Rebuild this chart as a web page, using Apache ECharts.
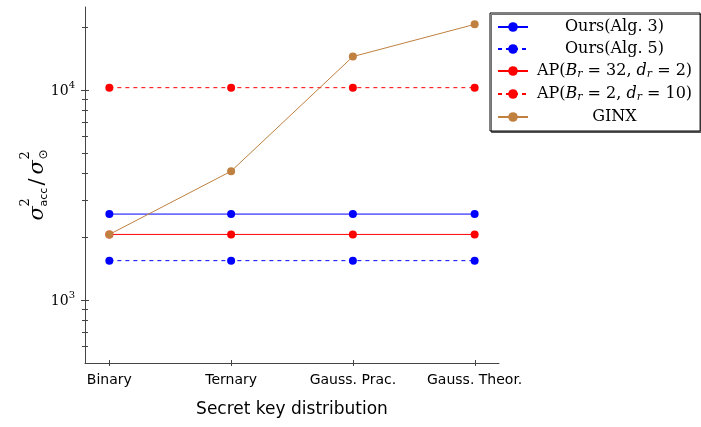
<!DOCTYPE html>
<html>
<head>
<meta charset="utf-8">
<script src="https://cdn.jsdelivr.net/npm/echarts@6/dist/echarts.min.js"></script>
<style>html,body{margin:0;padding:0;background:#fff;}#c{width:701px;height:427px;}</style>
</head>
<body>
<div id="c"></div>
<script>
var categories = ['Binary', 'Ternary', 'Gauss. Prac.', 'Gauss. Theor.'];
var oursAlg3 = [2560, 2560, 2560, 2560];
var oursAlg5 = [1536, 1536, 1536, 1536];
var apBr32 = [2048, 2048, 2048, 2048];
var apBr2 = [10240, 10240, 10240, 10240];
var ginx = [2048, 4096, 14400, 20500];
var yMajorTicks = [1000, 10000];
var yMinorTicks = [600, 700, 800, 900, 2000, 3000, 4000, 5000, 6000, 7000, 8000, 9000, 20000];
var xTickPositions = [0, 1, 2, 3];

var AX = '#444';
function pts(arr) { return arr.map(function (v, i) { return [i, v]; }); }

var chart = echarts.init(document.getElementById('c'), null, { renderer: 'canvas' });

function lineSeries(name, arr, color, dashed) {
  return {
    name: name, type: 'line', data: pts(arr),
    symbol: 'circle', symbolSize: 8, clip: false,
    itemStyle: { color: color },
    lineStyle: { color: color, width: 1, type: dashed ? [4, 4] : 'solid' },
    emphasis: { disabled: true }, animation: false
  };
}

var richLegend = {
  c: { fontFamily: 'DejaVu Serif', fontSize: 16, align: 'center', lineHeight: 18, color: '#000' },
  i: { fontFamily: 'DejaVu Serif', fontStyle: 'italic', fontSize: 16, align: 'center', lineHeight: 18, color: '#000' },
  s: { fontFamily: 'DejaVu Serif', fontStyle: 'italic', fontSize: 11, align: 'center', verticalAlign: 'bottom', lineHeight: 12, color: '#000' }
};

var legendNames = ['Ours(Alg. 3)', 'Ours(Alg. 5)', 'AP(Br=32,dr=2)', 'AP(Br=2,dr=10)', 'GINX'];
var legendFmt = {
  'Ours(Alg. 3)': '{c|Ours(Alg. 3)}',
  'Ours(Alg. 5)': '{c|Ours(Alg. 5)}',
  'AP(Br=32,dr=2)': '{c|AP(}{i|B}{s|r}{c| = 32, }{i|d}{s|r}{c| = 2)}',
  'AP(Br=2,dr=10)': '{c|AP(}{i|B}{s|r}{c| = 2, }{i|d}{s|r}{c| = 10)}',
  'GINX': '{c|GINX}'
};

var option = {
  animation: false,
  backgroundColor: '#fff',
  grid: { left: 85, top: 7, width: 414, height: 356, containLabel: false, outerBoundsMode: 'none' },
  xAxis: {
    type: 'value', min: -0.2, max: 3.2,
    axisLine: { show: true, onZero: false, lineStyle: { color: AX, width: 1 } },
    axisTick: { show: false },
    splitLine: { show: false },
    axisLabel: {
      customValues: xTickPositions,
      formatter: function (v) { return categories[Math.round(v)]; },
      fontFamily: 'DejaVu Sans', fontSize: 14, color: '#000', margin: 10
    },
    name: 'Secret key distribution', nameLocation: 'middle', nameGap: 38,
    nameTextStyle: { fontFamily: 'DejaVu Sans', fontSize: 17, color: '#000' }
  },
  yAxis: {
    type: 'log', logBase: 10, min: 500, max: 24800,
    axisLine: { show: true, onZero: false, lineStyle: { color: AX, width: 1 } },
    axisTick: { show: false },
    splitLine: { show: false },
    minorTick: { show: false },
    axisLabel: {
      margin: 10,
      formatter: function (v) {
        var e = Math.log10(v);
        if (Math.abs(e - Math.round(e)) > 1e-6) return '';
        return '{b|10}{s|' + Math.round(e) + '}';
      },
      rich: {
        b: { fontFamily: 'DejaVu Serif', fontSize: 14, color: '#000', lineHeight: 18, verticalAlign: 'bottom' },
        s: { fontFamily: 'DejaVu Serif', fontSize: 10, color: '#000', lineHeight: 18, verticalAlign: 'top' }
      }
    }
  },
  legend: {
    data: legendNames, orient: 'vertical', left: 490, top: 13,
    padding: [6, 8, 6, 7], itemGap: 6, itemWidth: 30, itemHeight: 12,
    backgroundColor: '#fff', borderColor: '#000', borderWidth: 1,
    shadowColor: 'rgba(0,0,0,0.55)', shadowOffsetX: 1.5, shadowOffsetY: 1.5, shadowBlur: 0,
    selectedMode: false,
    formatter: function (n) { return legendFmt[n]; },
    textStyle: { width: 163, rich: richLegend, color: '#000' }
  },
  graphic: [{
    type: 'group', x: 37.5, y: 182.5, rotation: Math.PI / 2, silent: true,
    children: [
      { type: 'text', x: -38, y: 0, style: { text: 'σ', font: 'italic 21px "DejaVu Serif"', fill: '#000', align: 'left', verticalAlign: 'middle' } },
      { type: 'text', x: -24, y: -12, style: { text: '2', font: '13px "DejaVu Serif"', fill: '#000', align: 'left', verticalAlign: 'middle' } },
      { type: 'text', x: -24, y: 6.5, style: { text: 'acc', font: '11px "DejaVu Sans"', fill: '#000', align: 'left', verticalAlign: 'middle' } },
      { type: 'text', x: -3, y: 0, style: { text: '/', font: '21px "DejaVu Serif"', fill: '#000', align: 'left', verticalAlign: 'middle' } },
      { type: 'text', x: 8, y: 0, style: { text: 'σ', font: 'italic 21px "DejaVu Serif"', fill: '#000', align: 'left', verticalAlign: 'middle' } },
      { type: 'text', x: 23, y: -12, style: { text: '2', font: '13px "DejaVu Serif"', fill: '#000', align: 'left', verticalAlign: 'middle' } },
      { type: 'text', x: 23, y: 6.5, style: { text: '⊙', font: '12px "DejaVu Sans"', fill: '#000', align: 'left', verticalAlign: 'middle' } }
    ]
  }],
  series: [
    lineSeries('Ours(Alg. 3)', oursAlg3, '#0000ff', false),
    lineSeries('Ours(Alg. 5)', oursAlg5, '#0000ff', true),
    lineSeries('AP(Br=32,dr=2)', apBr32, '#ff0000', false),
    lineSeries('AP(Br=2,dr=10)', apBr2, '#ff0000', true),
    lineSeries('GINX', ginx, '#bf8040', false),
    {
      type: 'custom', silent: true, clip: false, z: 5,
      data: yMajorTicks.map(function (v) { return [-0.2, v, 4]; }).concat(yMinorTicks.map(function (v) { return [-0.2, v, 3]; })),
      renderItem: function (params, api) {
        var cs = params.coordSys;
        var p = api.coord([api.value(0), api.value(1)]);
        var L = api.value(2);
        var y = Math.round(p[1]) + 0.5;
        return { type: 'line', shape: { x1: cs.x - L, y1: y, x2: cs.x + L, y2: y }, style: { stroke: AX, lineWidth: 1 } };
      }
    },
    {
      type: 'custom', silent: true, clip: false, z: 5,
      data: xTickPositions.map(function (v) { return [v, 500]; }),
      renderItem: function (params, api) {
        var cs = params.coordSys;
        var p = api.coord([api.value(0), api.value(1)]);
        var x = Math.round(p[0]) + 0.5;
        var yb = cs.y + cs.height;
        return { type: 'line', shape: { x1: x, y1: yb - 3, x2: x, y2: yb + 3 }, style: { stroke: AX, lineWidth: 1 } };
      }
    }
  ]
};
chart.setOption(option);
</script>
</body>
</html>
